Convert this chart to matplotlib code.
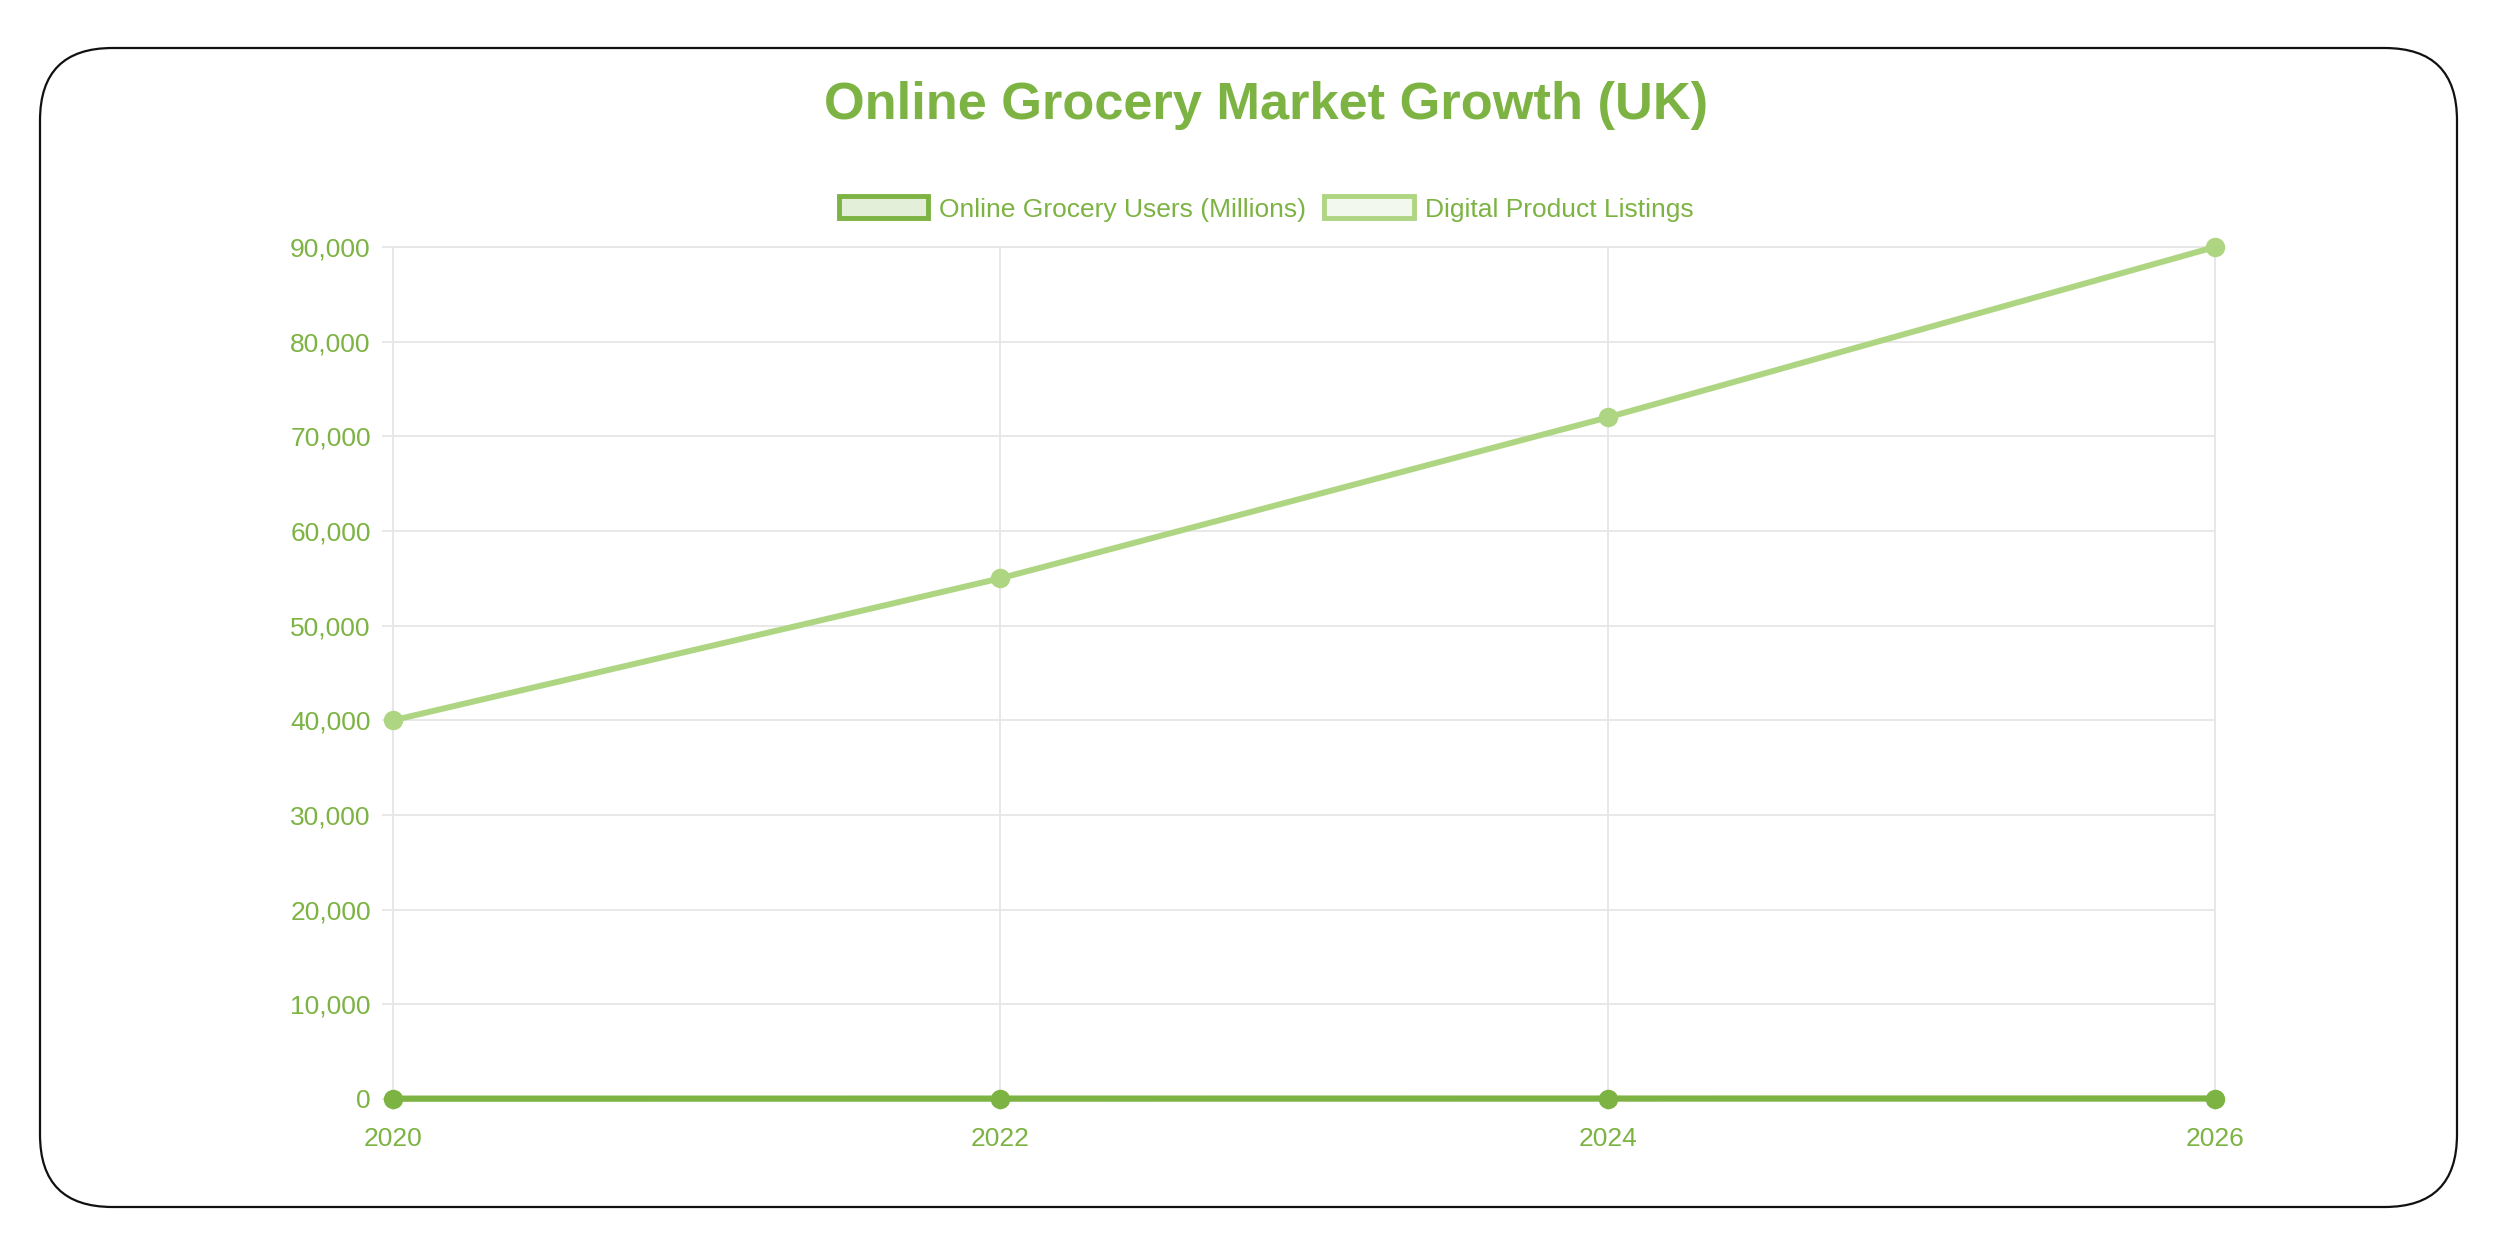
import matplotlib.pyplot as plt
from matplotlib.patches import FancyBboxPatch, Patch
from matplotlib.ticker import FuncFormatter

# data
years = [2020, 2022, 2024, 2026]
users = [35, 40, 45, 50]            # millions, tiny on this scale
listings = [40000, 55000, 72000, 90000]
y_ticks = list(range(0, 90001, 10000))

dark = '#7cb342'
light = '#aed581'
grid = '#e6e6e6'

plt.rcParams['font.family'] = ['Liberation Sans', 'DejaVu Sans']

fig = plt.figure(figsize=(24.97, 12.40), dpi=100)

# rounded frame round the card
frame = FancyBboxPatch((40 / 2497, 1 - 1207 / 1240), (2457 - 40) / 2497, (1207 - 48) / 1240,
                       boxstyle='round,pad=0,rounding_size=0.029', transform=fig.transFigure,
                       facecolor='none', edgecolor='#111111', linewidth=1.6,
                       mutation_aspect=2497 / 1240, zorder=-5)
fig.patches.append(frame)

ax = fig.add_axes([393 / 2497, 1 - 1099 / 1240, (2215 - 393) / 2497, (1099 - 247) / 1240])
ax.set_facecolor('none')

ax.plot(years, listings, color=light, linewidth=4.3, marker='o', markersize=13,
        markerfacecolor=light, markeredgecolor=light, label='Digital Product Listings', zorder=3)
ax.plot(years, users, color=dark, linewidth=4.5, marker='o', markersize=13,
        markerfacecolor=dark, markeredgecolor=dark, label='Online Grocery Users (Millions)', zorder=4)

ax.set_xlim(2020, 2026)
ax.set_ylim(0, 90000)
ax.set_xticks(years)
ax.set_yticks(y_ticks)
ax.yaxis.set_major_formatter(FuncFormatter(lambda v, p: f'{int(v):,}'))
ax.grid(True, color=grid, linewidth=1.3)
ax.set_axisbelow(True)
for s in ax.spines.values():
    s.set_color(grid)
    s.set_linewidth(1.3)
ax.tick_params(axis='both', colors=grid, labelcolor=dark, labelsize=19, length=8, width=1.3)
ax.tick_params(axis='y', pad=8)
ax.tick_params(axis='x', pad=12)
for line in ax.get_lines():
    line.set_clip_on(False)

cx = 795 / 1568

# legend with boxes like chart.js
handles = [Patch(facecolor='#e3efd9', edgecolor=dark, linewidth=3.5, label='Online Grocery Users (Millions)'),
           Patch(facecolor='#f3f8ee', edgecolor=light, linewidth=3.5, label='Digital Product Listings')]
fig.legend(handles=handles, loc='center', bbox_to_anchor=(cx, 1 - 209 / 1240), ncol=2, frameon=False,
           fontsize=19, labelcolor=dark, handlelength=3.4, handleheight=0.9, handletextpad=0.4,
           columnspacing=0.7)

fig.text(cx, 1 - 106 / 1240, 'Online Grocery Market Growth (UK)', ha='center', va='center',
         fontsize=37.7, fontweight='bold', color=dark)

fig.savefig('out.png', dpi=100)
